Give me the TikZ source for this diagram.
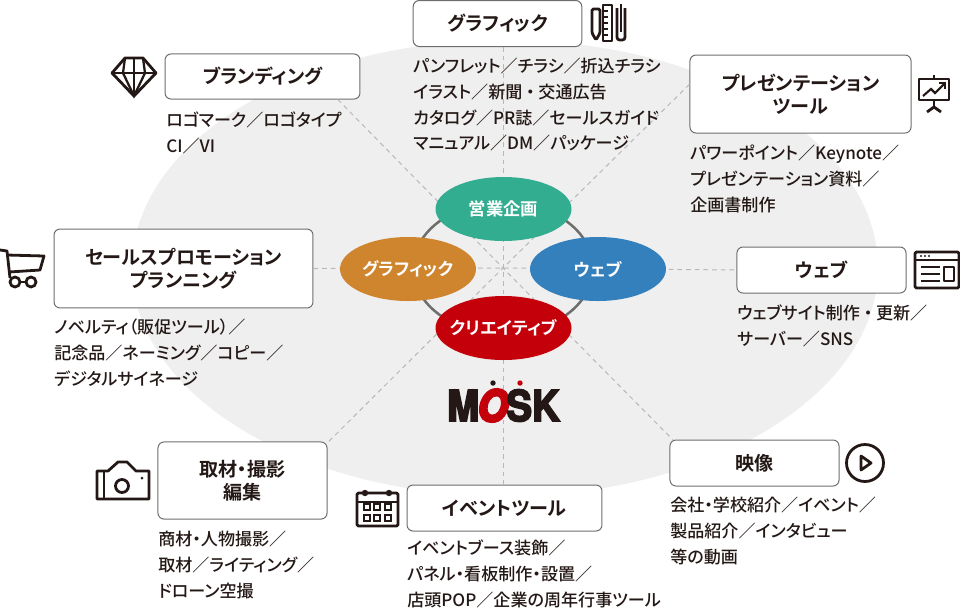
\documentclass[tikz,border=0pt]{standalone}
\usepackage{fontspec}
\setmainfont{Noto Sans CJK JP Medium}[RawFeature={+palt},BoldFont={Noto Sans CJK JP Bold}]
\newfontfamily\logofont{TeX Gyre Heros}[FakeStretch=0.9,BoldFeatures={FakeBold=4},BoldItalicFeatures={FakeBold=7}]
\usetikzlibrary{shapes.geometric}
\definecolor{backdrop}{HTML}{EFEFEF}
\definecolor{ink}{HTML}{231815}
\definecolor{boxline}{HTML}{6E6E6E}
\definecolor{spokeline}{HTML}{B8B8B8}
\definecolor{sales}{HTML}{33AD90}
\definecolor{graphic}{HTML}{CF852D}
\definecolor{web}{HTML}{3380BD}
\definecolor{creative}{HTML}{C4000B}
\newcommand{\widedot}{\hspace{.22em}・\hspace{.22em}}
\tikzset{
  topicbox/.style={draw=boxline,fill=white,line width=0.75pt,rounded corners=4.5pt,align=center,
    inner sep=0pt,text=ink,font=\fontsize{14.3}{17}\selectfont\bfseries},
  listtext/.style={anchor=north west,inner sep=0pt,align=left,text=ink,
    font=\fontsize{12.8}{19.3}\selectfont},
  hubellipse/.style={ellipse,inner sep=0pt,minimum width=102pt,minimum height=48pt,text=white,
    font=\fontsize{13}{16}\selectfont\bfseries},
  spoke/.style={spokeline,line width=0.75pt,dash pattern=on 3.5pt off 3pt},
  iconline/.style={ink,line width=2.1pt,line join=round}
}
\begin{document}
\begin{tikzpicture}[x=0.75pt,y=-0.75pt]
  \useasboundingbox (0,0) rectangle (960,608);

  % Backdrop
  \fill[backdrop] (505,268) ellipse [x radius=373,y radius=228];

  % Topic boxes
  \node[topicbox,minimum width=126.4pt,minimum height=34.5pt] (graphbox) at (497.5,23.5) {グラフィック};
  \node[topicbox,minimum width=146.2pt,minimum height=33.8pt] (brandbox) at (262.5,76.5) {ブランディング};
  \node[topicbox,minimum width=165.8pt,minimum height=58.5pt] (presbox) at (800.5,94) {プレゼンテーション\\ツール};
  \node[topicbox,minimum width=126.8pt,minimum height=34.5pt] (webbox) at (821.5,270) {ウェブ};
  \node[topicbox,minimum width=194.2pt,minimum height=59.2pt] (promobox) at (183.5,268.5) {セールスプロモーション\\プランニング};
  \node[topicbox,minimum width=126.8pt,minimum height=57.8pt] (shootbox) at (242.5,480.5) {取材・撮影\\編集};
  \node[topicbox,minimum width=146.2pt,minimum height=34.5pt] (eventbox) at (504.5,508) {イベントツール};
  \node[topicbox,minimum width=126.8pt,minimum height=34.5pt] (moviebox) at (754.5,463) {映像};

  % Spokes
  \coordinate (hub) at (503,268);
  \draw[spoke] (graphbox.south -| hub) -- (eventbox.north -| hub);
  \draw[spoke] (promobox.east) -- (hub) -- (webbox.west);
  \draw[spoke] (brandbox.-17.7) -- (hub) -- (moviebox.164.8);
  \draw[spoke] (presbox.175.3) -- (hub) -- (shootbox.24.5);

  % Ring
  \draw[boxline,line width=1.9pt] (503,268) ellipse [x radius=90,y radius=66];

  % Service ellipses
  \node[hubellipse,fill=sales] (salesnode) at (503.5,209) {営業企画};
  \node[hubellipse,fill=graphic] (graphnode) at (408,269) {\makebox[0pt]{グラフィック}};
  \node[hubellipse,fill=web] (webnode) at (598,269) {ウェブ};
  \node[hubellipse,fill=creative] (creativenode) at (503.5,328) {\makebox[0pt]{クリエイティブ}};

  % Logo
  \node[font=\logofont\fontsize{32}{32}\selectfont\bfseries,text=ink,inner sep=0pt] (logo) at (503.5,405.5)
    {M\kern-1pt\textcolor{creative}{\itshape O}\kern-1pt SK};
  \fill[ink] (493,383) circle (2.7);
  \fill[creative] (520,383) circle (2.7);

  % Lists
  \node[listtext] (graphlist) at (413,58) {パンフレット／チラシ／折込チラシ\\イラスト／新聞\widedot 交通広告\\カタログ／PR誌／セールスガイド\\マニュアル／DM／パッケージ};
  \node[listtext] (brandlist) at (166,112) {ロゴマーク／ロゴタイプ\\CI／VI};
  \node[listtext] (preslist) at (690,145) {パワーポイント／Keynote／\\プレゼンテーション資料／\\企画書制作};
  \node[listtext] (weblist) at (737,305) {ウェブサイト制作\widedot 更新／\\サーバー／SNS};
  \node[listtext] (promolist) at (54,319) {ノベルティ（販促ツール）／\\記念品／ネーミング／コピー／\\デジタルサイネージ};
  \node[listtext] (shootlist) at (158,531) {商材・人物撮影／\\取材／ライティング／\\ドローン空撮};
  \node[listtext] (eventlist) at (407,540) {イベントブース装飾／\\パネル・看板制作・設置／\\店頭POP／企業の周年行事ツール};
  \node[listtext] (movielist) at (670,497) {会社・学校紹介／イベント／\\製品紹介／インタビュー\\等の動画};

  % Pen and ruler icon
  \draw[iconline,rounded corners=1pt] (592,9) -- (592,33) -- (596,40) -- (600,33) -- (600,9) -- cycle;
  \draw[iconline] (603,5) rectangle (612,41);
  \foreach \y in {11,17,23,29,35} {\draw[ink,line width=1.2pt] (603,\y) -- (608,\y);}
  \draw[iconline,rounded corners=2pt] (617,8) -- (617,40) -- (625,40) -- (625,8);
  \draw[iconline] (621,4) -- (621,32);

  % Diamond icon
  \draw[iconline] (125,58) -- (143,58) -- (156,73) -- (134,96) -- (112,73) -- cycle;
  \draw[iconline] (112,73) -- (156,73);
  \draw[ink,line width=1.7pt] (125,58) -- (123,73) -- (134,96) -- (145,73) -- (143,58);
  \draw[ink,line width=1.7pt] (134,58) -- (134,96);

  % Chart board icon
  \draw[iconline] (919,79) rectangle (949,100);
  \draw[iconline] (934,75) -- (934,79);
  \draw[iconline] (934,100) -- (934,109);
  \draw[iconline] (927,112) -- (934,107) -- (941,112);
  \draw[ink,line width=1.6pt] (923,96) -- (931,89) -- (935,93) -- (945,83);
  \draw[ink,line width=1.6pt] (939,83) -- (945,83) -- (945,89);

  % Window icon
  \draw[iconline,rounded corners=1pt] (915,252) rectangle (959,288);
  \draw[iconline] (915,260) -- (959,260);
  \foreach \x in {921,925,929} {\fill[ink] (\x,256) circle (1.2);}
  \draw[iconline] (921,267) -- (940,267);
  \draw[iconline] (921,274) -- (940,274);
  \draw[iconline] (921,281) -- (940,281);
  \draw[iconline] (944,267) rectangle (954,281);

  % Cart icon
  \draw[iconline] (0,250) -- (7,251) -- (10,278);
  \draw[iconline] (7,255) -- (44,256) -- (40,270) -- (9,272);
  \draw[iconline] (15,282) circle (5);
  \draw[iconline] (31,282) circle (5);
  \draw[iconline] (20,282) -- (26,282);

  % Camera icon
  \draw[iconline] (97,471) -- (108,471) -- (118,462) -- (127,462) -- (136,471) -- (149,471) -- (149,499) -- (97,499) -- cycle;
  \draw[iconline] (104,471) -- (104,499);
  \draw[iconline] (122,486) circle (6.5);
  \fill[ink] (142,478) circle (1.5);

  % Calendar icon
  \draw[iconline,rounded corners=1pt] (357,493) rectangle (398,526);
  \draw[iconline] (357,502) -- (398,502);
  \fill[ink] (365,493) circle (3.2);
  \fill[ink] (389,493) circle (3.2);
  \foreach \x in {367,377,388} {\foreach \y in {507,518} {\draw[ink,line width=1.6pt] (\x-3,\y-3) rectangle (\x+3,\y+3);}}

  % Play icon
  \draw[iconline] (865,463) circle (18.5);
  \draw[iconline] (861,456) -- (871,463) -- (861,470) -- cycle;
\end{tikzpicture}
\end{document}
